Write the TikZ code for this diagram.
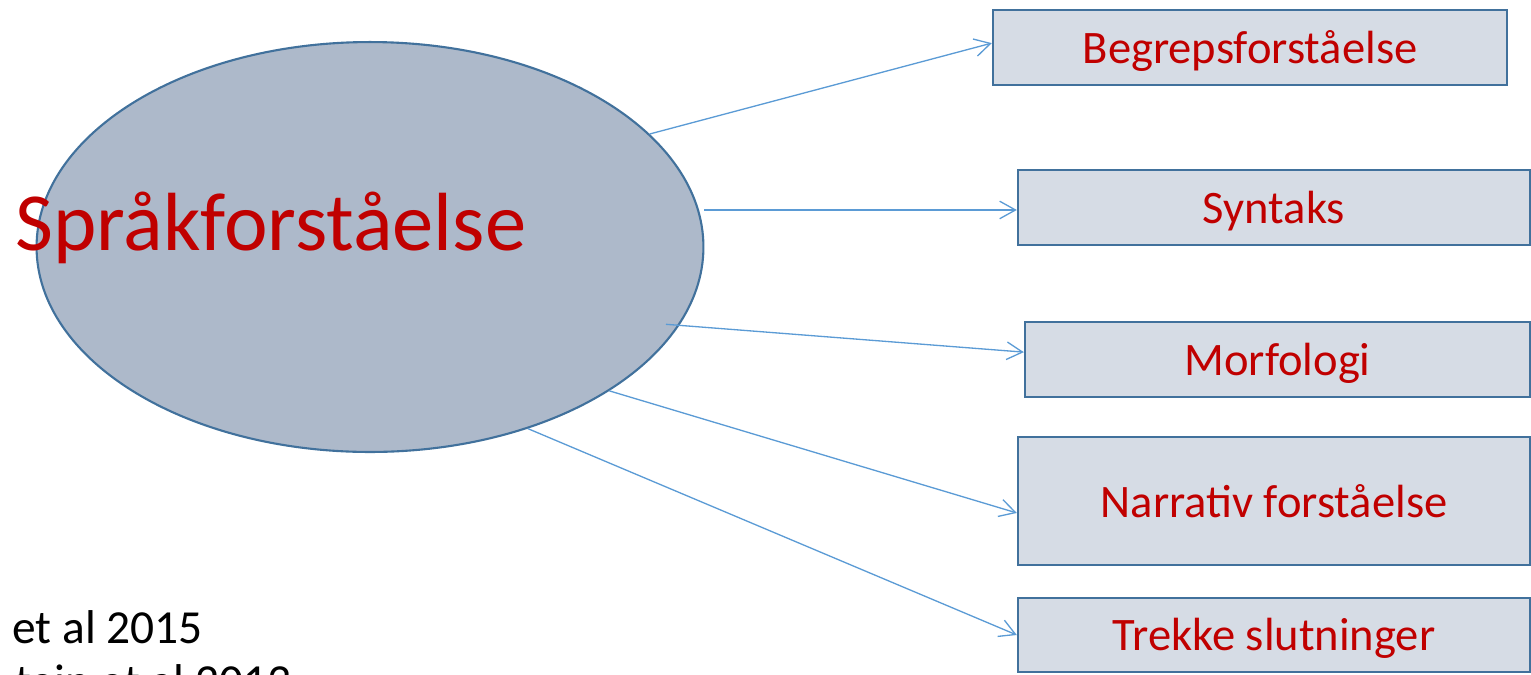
\documentclass[tikz,border=0pt]{standalone}
\usepackage{fontspec}
\setmainfont{Carlito}
\usetikzlibrary{shapes.geometric,arrows.meta}
\definecolor{rodtekst}{HTML}{C00000}
\definecolor{kant}{HTML}{41719C}
\definecolor{ellfyll}{HTML}{ADB9CA}
\definecolor{boksfyll}{HTML}{D6DCE5}
\definecolor{pil}{HTML}{5B9BD5}
\tikzstyle{boks} = [draw=kant,fill=boksfyll,line width=1.4pt,rectangle,inner sep=0pt,text=rodtekst,font=\fontsize{26.5}{32}\selectfont,text depth=0.05em,minimum height=1.5cm]
\tikzstyle{ell} = [draw=kant,fill=ellfyll,line width=1.2pt,ellipse,inner sep=0pt,minimum width=13.34cm,minimum height=8.2cm]
\tikzstyle{pil} = [draw=pil,line width=0.75pt,-{Straight Barb[length=9pt,width=10pt]}]

\begin{document}
\begin{tikzpicture}[x=0.02cm,y=-0.02cm]
	\useasboundingbox (0,0) rectangle (1531,674);
	% ellipse
	\node (sprak) [ell] at (370,247) {};
	\node (sprakt) [anchor=base west,inner sep=0pt,text=rodtekst,font=\fontsize{47}{56}\selectfont] at (15,250) {Språkforståelse};
	% boxes
	\node (begrep) [boks,minimum width=10.28cm] at (1250,47.5) {Begrepsforståelse};
	\node (syntaks) [boks,minimum width=10.24cm] at (1274,207.5) {Syntaks};
	\node (morf) [boks,minimum width=10.1cm] at (1277.5,359.5) {Morfologi};
	\node (narr) [boks,minimum width=10.24cm,minimum height=2.56cm] at (1274,501) {Narrativ forståelse};
	\node (trekke) [boks,minimum width=10.24cm,minimum height=1.48cm] at (1274,635) {Trekke slutninger};
	% references
	\node (ref1) [anchor=base west,inner sep=0pt,font=\fontsize{27}{32}\selectfont] at (12,643) {et al 2015};
	\node (ref2) [anchor=base west,inner sep=0pt,font=\fontsize{27}{32}\selectfont] at (15,697) {tein et al 2013};
	% connections
	\draw [pil] (sprak.22.5) -- ([yshift=2.5pt]begrep.west);
	\draw [pil] ([yshift=-1.4pt]sprak.east |- syntaks.west) -- ([yshift=-1.4pt]syntaks.west);
	\draw [pil] ([xshift=-8pt]sprak.-14.5) -- ([yshift=4.2pt]morf.west);
	\draw [pil] (sprak.-31.5) -- ([yshift=-6.8pt]narr.west);
	\draw [pil] (sprak.-49) -- (trekke.west);
\end{tikzpicture}
\end{document}
